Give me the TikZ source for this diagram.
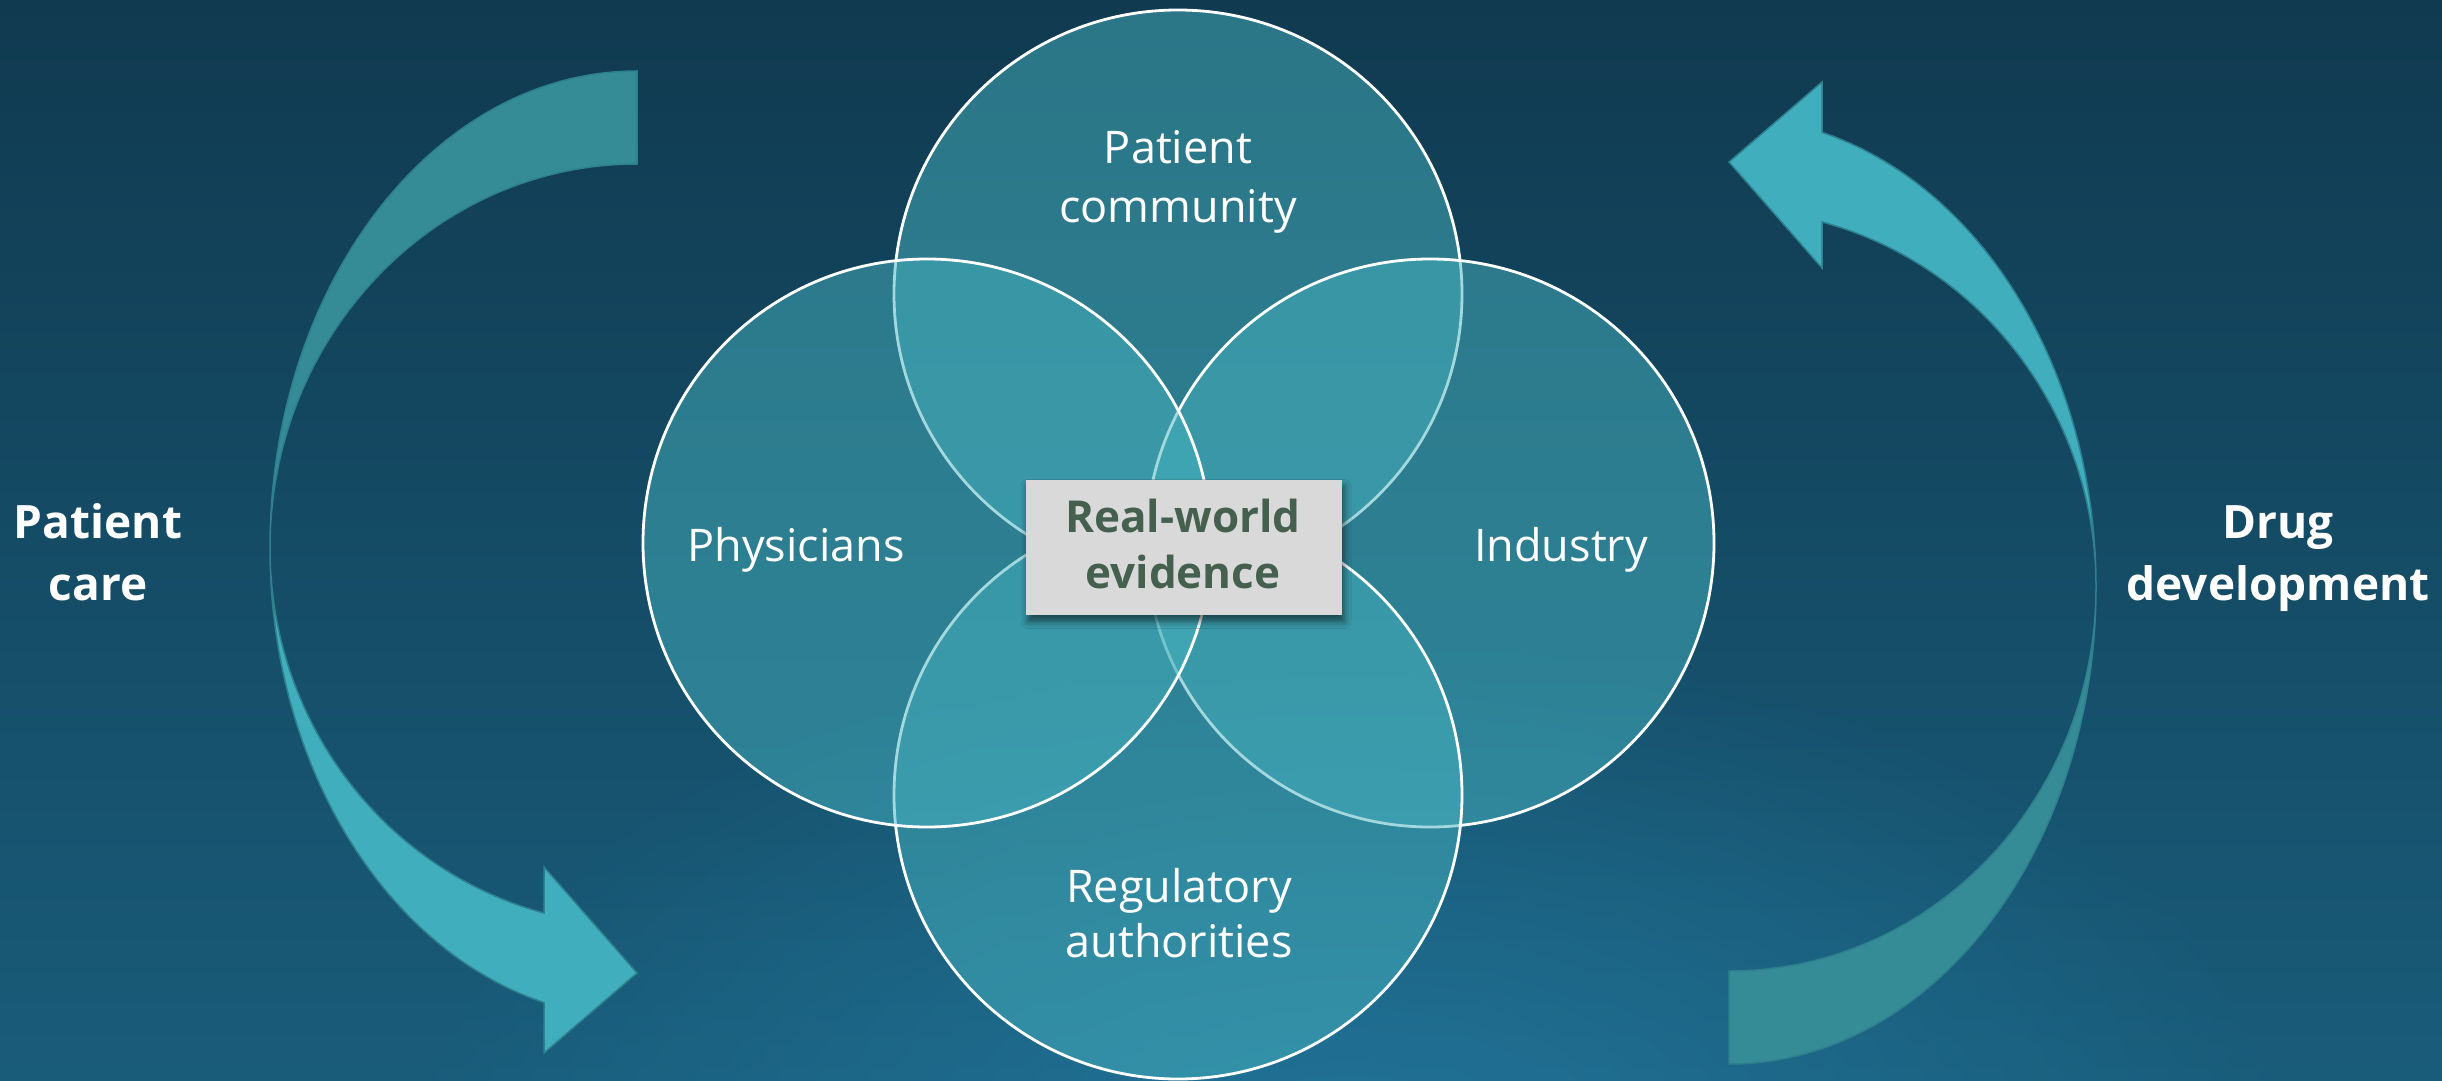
\documentclass[tikz,border=0pt]{standalone}
\usepackage{fontspec}
\setmainfont{Open Sans}
\usetikzlibrary{shadows.blur,fadings}

\definecolor{bgtop}{RGB}{16,58,80}
\definecolor{bgbot}{RGB}{25,92,122}
\definecolor{glowcol}{RGB}{38,128,168}
\definecolor{circfill}{RGB}{70,178,190}
\definecolor{arrdark}{RGB}{53,140,150}
\definecolor{arrlight}{RGB}{64,174,189}
\definecolor{arredge}{RGB}{46,128,142}
\definecolor{boxgray}{RGB}{217,217,217}
\definecolor{rwetext}{RGB}{70,96,80}

\tikzfading[name=glowfade, inner color=transparent!35, outer color=transparent!100]

\newcommand\curvedarrowshape{%
  \path[fill=arrdark, draw=arredge, line width=1.5pt]
    (637,71) arc[start angle=-90, end angle=-180, x radius=367, y radius=477]
    arc[start angle=180, end angle=270, x radius=367, y radius=384] -- cycle;
  \path[fill=arrlight, draw=arredge, line width=1.5pt]
    (270,548) arc[start angle=180, end angle=104.68, x radius=367, y radius=470]
    -- (544,1053) -- (637,973) -- (544,867) -- (544,913)
    arc[start angle=104.68, end angle=180, x radius=367, y radius=377] -- cycle;
}

\begin{document}
\begin{tikzpicture}[x=1pt,y=-1pt,
  venn/.style={circle, minimum size=568pt, inner sep=0pt, fill=circfill, fill opacity=0.5, draw=white, line width=2.8pt},
  lbl/.style={text=white, font=\fontsize{45}{54}\selectfont, anchor=base, inner sep=0pt},
  side/.style={text=white, font=\fontsize{46}{54}\selectfont\bfseries, anchor=base, inner sep=0pt},
  rwe/.style={text=rwetext, font=\fontsize{44}{52}\selectfont\bfseries, anchor=base, inner sep=0pt},
  box/.style={fill=boxgray, draw=none, minimum width=316pt, minimum height=135pt, inner sep=0pt,
    blur shadow={shadow xshift=2pt, shadow yshift=-7pt, shadow blur radius=7pt, shadow opacity=55}}]
\useasboundingbox (0,0) rectangle (2442,1081);
\shade[top color=bgtop, bottom color=bgbot] (0,0) rectangle (2442,1081);
\begin{scope}
\clip (0,0) rectangle (2442,1081);
\fill[glowcol, path fading=glowfade] (1350,1150) ellipse [x radius=950, y radius=520];
\end{scope}

% curved arrows
\begin{scope}
\curvedarrowshape
\end{scope}
\begin{scope}[rotate around={180:(1183,567.5)}]
\curvedarrowshape
\end{scope}

% venn circles
\node[venn] (ctop) at (1178,294) {};
\node[venn] (cright) at (1430,543) {};
\node[venn] (cbottom) at (1178,795) {};
\node[venn] (cleft) at (927,543) {};

% labels
\node[lbl] (pc1) at (1178,163) {Patient};
\node[lbl] (pc2) at (1178,222) {community};
\node[lbl] (phys) at (796,561) {Physicians};
\node[lbl] (ind) at (1561,561) {Industry};
\node[lbl] (reg1) at (1179,902) {Regulatory};
\node[lbl] (reg2) at (1179,957) {authorities};

\node[side] (care1) at (98,538) {Patient};
\node[side] (care2) at (98,600) {care};
\node[side] (drug1) at (2278,538) {Drug};
\node[side] (drug2) at (2278,600) {development};

% center box
\node[box] (rwe) at (1184,547) {};
\node[rwe] (rwe1) at (1183,532) {Real-world};
\node[rwe] (rwe2) at (1183,588) {evidence};
\end{tikzpicture}
\end{document}
